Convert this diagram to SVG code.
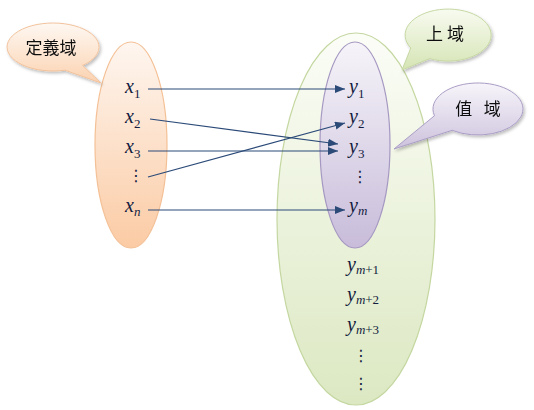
<svg xmlns="http://www.w3.org/2000/svg" width="534" height="410" viewBox="0 0 534 410">
<defs>
<linearGradient id="gOrange" x1="0" y1="0" x2="0" y2="1"><stop offset="0" stop-color="#fef6f0"/><stop offset="1" stop-color="#fbcba4"/></linearGradient>
<linearGradient id="gGreen" x1="0" y1="0" x2="0" y2="1"><stop offset="0" stop-color="#fbfdf7"/><stop offset="1" stop-color="#dce8c2"/></linearGradient>
<linearGradient id="gPurple" x1="0" y1="0" x2="0" y2="1"><stop offset="0" stop-color="#f6f4f9"/><stop offset="1" stop-color="#c8bcda"/></linearGradient>
<linearGradient id="cOrange" x1="0" y1="0" x2="0" y2="1"><stop offset="0" stop-color="#fef8f2"/><stop offset="1" stop-color="#fbd2b0"/></linearGradient>
<linearGradient id="cGreen" x1="0" y1="0" x2="0" y2="1"><stop offset="0" stop-color="#f8fbf0"/><stop offset="1" stop-color="#d5e4b4"/></linearGradient>
<linearGradient id="cPurple" x1="0" y1="0" x2="0" y2="1"><stop offset="0" stop-color="#f7f5fa"/><stop offset="1" stop-color="#cdc2dd"/></linearGradient>
<filter id="sh" x="-20%" y="-20%" width="150%" height="160%"><feDropShadow dx="1.5" dy="2" stdDeviation="1.5" flood-color="#000" flood-opacity="0.25"/></filter>
<marker id="ah" markerUnits="userSpaceOnUse" markerWidth="12" markerHeight="10" refX="10" refY="4" orient="auto"><path d="M0,0 L10,4 L0,8 Z" fill="#2b4a78"/></marker>
<style>
.v{font-family:"Liberation Serif",serif;font-style:italic;font-size:20px;fill:#141c40}
.s{font-family:"Liberation Serif",serif;font-style:normal;font-size:13px}
.si{font-style:italic}
.d{font-family:"DejaVu Sans",sans-serif;font-size:16px;fill:#141c40}
.c{font-family:"Noto Sans CJK TC","Noto Sans CJK SC",sans-serif;font-size:17px;fill:#111}
.ln{stroke:#2b4a78;stroke-width:1.2;fill:none;marker-end:url(#ah)}
</style>
</defs>
<g id="upper-domain"><ellipse cx="356" cy="219" rx="79" ry="186" fill="url(#gGreen)" stroke="#c4d7a0" stroke-width="1.2"/></g>
<g id="range"><ellipse cx="355" cy="145" rx="35" ry="103" fill="url(#gPurple)" stroke="#a698c2" stroke-width="1.2"/></g>
<g id="domain"><ellipse cx="131" cy="145" rx="36" ry="103" fill="url(#gOrange)" stroke="#f4c096" stroke-width="1.2"/></g>
<g id="callout-domain" filter="url(#sh)"><path d="M82.6,65.4 A46,24 0 1 0 64.9,70.2 L101,83 Z" fill="url(#cOrange)" stroke="#f2c29c" stroke-width="1"/><text class="c" x="51" y="54" text-anchor="middle">定義域</text></g>
<g id="callout-upper" filter="url(#sh)"><path d="M429.8,58.6 A43,26 0 1 0 410.8,48 L402,70 Z" fill="url(#cGreen)" stroke="#c6d8a3" stroke-width="1"/><text class="c" x="445" y="40" text-anchor="middle" xml:space="preserve">上 域</text></g>
<g id="callout-range" filter="url(#sh)"><path d="M452.2,130.3 A45,26 0 1 0 434.5,115.7 L394,149 Z" fill="url(#cPurple)" stroke="#ab9ec6" stroke-width="1"/><text class="c" x="478" y="115" text-anchor="middle" xml:space="preserve">值   域</text></g>
<g id="x-labels">
<text class="v" x="125" y="93">x<tspan class="s" dy="5">1</tspan></text>
<text class="v" x="125" y="123">x<tspan class="s" dy="5">2</tspan></text>
<text class="v" x="125" y="153">x<tspan class="s" dy="5">3</tspan></text>
<text class="d" x="128" y="181">⋮</text>
<text class="v" x="125" y="212">x<tspan class="s si" dy="4">n</tspan></text>
</g>
<g id="y-labels">
<text class="v" x="349" y="93">y<tspan class="s" dy="5">1</tspan></text>
<text class="v" x="349" y="123">y<tspan class="s" dy="5">2</tspan></text>
<text class="v" x="349" y="153">y<tspan class="s" dy="5">3</tspan></text>
<text class="d" x="352" y="182">⋮</text>
<text class="v" x="349" y="212">y<tspan class="s si" dy="3">m</tspan></text>
<text class="v" x="347" y="271">y<tspan class="s" dy="3"><tspan class="si">m</tspan>+1</tspan></text>
<text class="v" x="347" y="301">y<tspan class="s" dy="3"><tspan class="si">m</tspan>+2</tspan></text>
<text class="v" x="347" y="331">y<tspan class="s" dy="3"><tspan class="si">m</tspan>+3</tspan></text>
<text class="d" x="353" y="361">⋮</text>
<text class="d" x="353" y="389">⋮</text>
</g>
<g id="connectors">
<line class="ln" x1="148" y1="89" x2="345" y2="89"/>
<line class="ln" x1="150" y1="119" x2="338" y2="144"/>
<line class="ln" x1="148" y1="151" x2="338" y2="151"/>
<line class="ln" x1="148" y1="177" x2="345" y2="123"/>
<line class="ln" x1="148" y1="210" x2="345" y2="210"/>
</g>
</svg>
